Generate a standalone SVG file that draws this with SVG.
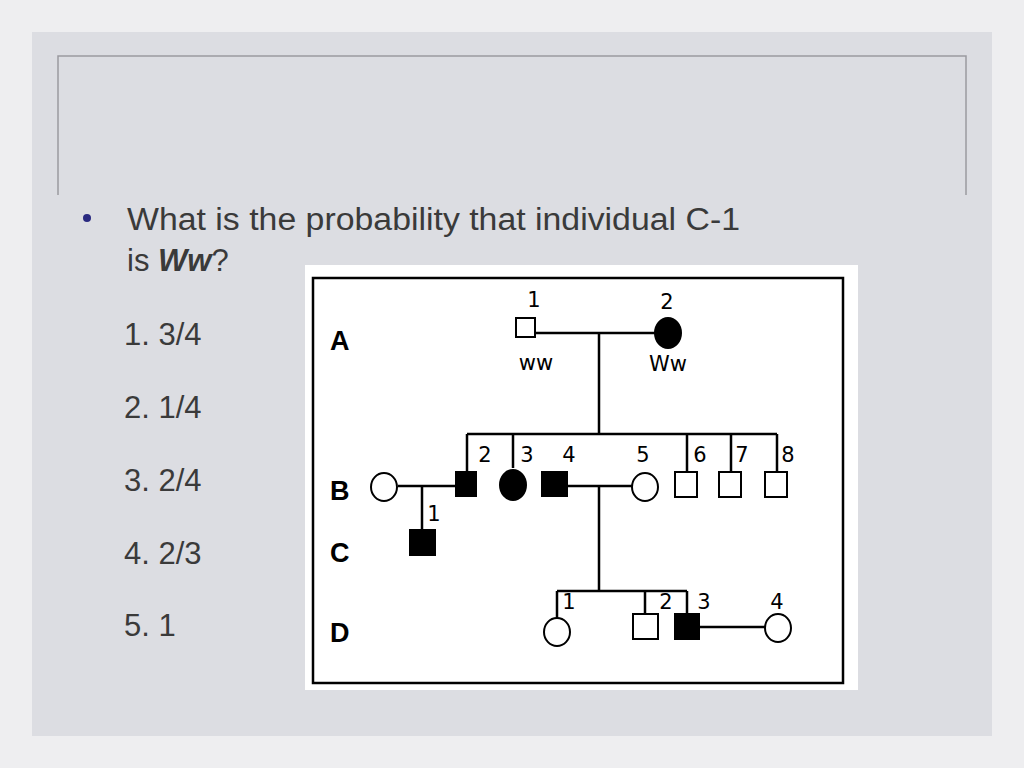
<svg xmlns="http://www.w3.org/2000/svg" width="1024" height="768" viewBox="0 0 1024 768">
<style>
.q{font-family:"Liberation Sans",Arial,sans-serif;font-size:31px;fill:#3a3a3a}
.p{stroke:#000;stroke-width:2.5;fill:none}
.o{stroke:#000;stroke-width:2;fill:#fff}
.f{fill:#000;stroke:#000;stroke-width:2}
.n{font-family:"DejaVu Sans",sans-serif;font-size:21px;fill:#000}
.g{font-family:"Liberation Sans",Arial,sans-serif;font-size:27px;font-weight:bold;fill:#000}
</style>
<rect width="1024" height="768" fill="#eeeef0"/>
<rect x="32" y="32" width="960" height="704" fill="#dcdde2"/>
<path d="M58 195V56H966V195" fill="none" stroke="#9a9aa0" stroke-width="1.5"/>
<g id="question">
<circle cx="87" cy="218" r="4" fill="#2a2a80"/>
<text class="q" x="127" y="230" textLength="613" lengthAdjust="spacingAndGlyphs">What is the probability that individual C-1</text>
<text class="q" x="127" y="271">is <tspan font-weight="bold" font-style="italic">Ww</tspan>?</text>
<text class="q" x="124" y="345">1.  3/4</text>
<text class="q" x="124" y="418">2.  1/4</text>
<text class="q" x="124" y="491">3.  2/4</text>
<text class="q" x="124" y="564">4.  2/3</text>
<text class="q" x="124" y="636">5.  1</text>
</g>
<rect x="305" y="265" width="553" height="425" fill="#fff"/>
<rect x="313" y="278" width="530" height="405" fill="none" stroke="#000" stroke-width="2.5"/>
<g id="connectors" class="p">
<path d="M534 333H655M599 333V434M467 434H777M467 434V471M513 434V468M687 434V472M731 434V472M777 434V472"/>
<path d="M398 486H456M422 486V530M568 486H632M599 486V591M557 591H687M557 591V618M645 591V614M687 591V614M699 627H765"/>
</g>
<g id="genLabels">
<text class="g" x="330" y="350">A</text>
<text class="g" x="330" y="500">B</text>
<text class="g" x="330" y="562">C</text>
<text class="g" x="330" y="642">D</text>
</g>
<g id="A1"><rect class="o" x="516" y="318" width="19" height="19"/><text class="n" x="534" y="307" text-anchor="middle">1</text><text class="n" x="536" y="370" text-anchor="middle">ww</text></g>
<g id="A2"><ellipse class="f" cx="668" cy="333" rx="13" ry="15"/><text class="n" x="667" y="309" text-anchor="middle">2</text><text class="n" x="668" y="371" text-anchor="middle">Ww</text></g>
<g id="B1"><ellipse class="o" cx="384" cy="487" rx="13" ry="14"/></g>
<g id="B2"><rect class="f" x="456" y="472" width="20" height="24"/><text class="n" x="485" y="462" text-anchor="middle">2</text></g>
<g id="B3"><ellipse class="f" cx="513" cy="485" rx="13" ry="15"/><text class="n" x="527" y="462" text-anchor="middle">3</text></g>
<g id="B4"><rect class="f" x="542" y="472" width="25" height="24"/><text class="n" x="569" y="462" text-anchor="middle">4</text></g>
<g id="B5"><ellipse class="o" cx="645" cy="487" rx="13" ry="14"/><text class="n" x="643" y="462" text-anchor="middle">5</text></g>
<g id="B6"><rect class="o" x="675" y="472" width="22" height="25"/><text class="n" x="700" y="462" text-anchor="middle">6</text></g>
<g id="B7"><rect class="o" x="719" y="472" width="22" height="25"/><text class="n" x="742" y="462" text-anchor="middle">7</text></g>
<g id="B8"><rect class="o" x="765" y="472" width="22" height="25"/><text class="n" x="788" y="462" text-anchor="middle">8</text></g>
<g id="C1"><rect class="f" x="410" y="530" width="25" height="25"/><text class="n" x="434" y="521" text-anchor="middle">1</text></g>
<g id="D1"><ellipse class="o" cx="557" cy="632" rx="13" ry="14"/><text class="n" x="569" y="609" text-anchor="middle">1</text></g>
<g id="D2"><rect class="o" x="633" y="614" width="25" height="25"/><text class="n" x="666" y="609" text-anchor="middle">2</text></g>
<g id="D3"><rect class="f" x="675" y="614" width="24" height="25"/><text class="n" x="704" y="609" text-anchor="middle">3</text></g>
<g id="D4"><ellipse class="o" cx="778" cy="628" rx="13" ry="14"/><text class="n" x="777" y="609" text-anchor="middle">4</text></g>
</svg>
